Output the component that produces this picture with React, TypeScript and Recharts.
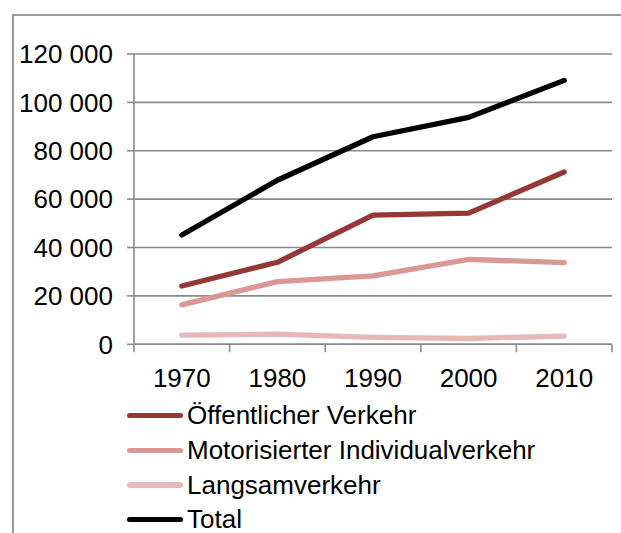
import React from "react";
import { LineChart, Line, XAxis, YAxis, CartesianGrid, Legend } from "recharts";

// Werte
const years = [1970, 1980, 1990, 2000, 2010];
const oeffentlich = [24100, 33900, 53400, 54200, 71200];
const motorisiert = [16300, 25900, 28300, 35100, 33800];
const langsam = [3800, 4200, 2900, 2400, 3400];
const total = [45200, 67800, 85800, 93800, 109100];
const yTicks = [0, 20000, 40000, 60000, 80000, 100000, 120000];
// Kategoriegrenzen (Excel-Stil: Teilstriche zwischen den Jahren)
const xBounds = [1965, 1975, 1985, 1995, 2005, 2015];

const seriesNames = [
  "Öffentlicher Verkehr",
  "Motorisierter Individualverkehr",
  "Langsamverkehr",
  "Total",
];
const seriesColors = ["#953735", "#d99795", "#e6b9b8", "#000000"];

const data = years.map((year, i) => ({
  year,
  oeffentlich: oeffentlich[i],
  motorisiert: motorisiert[i],
  langsam: langsam[i],
  total: total[i],
}));

const FONT = '"Liberation Sans", Arial, sans-serif';
const GRID = "#8a8a8a";

const fmt = (v: number) => String(v).replace(/\B(?=(\d{3})+(?!\d))/g, " ");

const XTick = (props: any) => {
  const { x, y, payload } = props;
  const v = payload.value;
  if (xBounds.includes(v)) {
    return <line x1={x} x2={x} y1={y - 8} y2={y} stroke={GRID} strokeWidth={1.6} />;
  }
  return (
    <text x={x} y={y + 34.6} textAnchor="middle" fontSize={26} fill="#000" fontFamily={FONT}>
      {v}
    </text>
  );
};

const LegendContent = (props: any) => {
  // Reihenfolge wie die Serien, nicht alphabetisch
  const items = [...(props.payload || [])].sort(
    (a: any, b: any) => seriesNames.indexOf(a.value) - seriesNames.indexOf(b.value)
  );
  return (
    <div style={{ fontFamily: FONT, fontSize: 26, color: "#000" }}>
      {items.map((p: any) => (
        <div
          key={p.value}
          style={{ display: "flex", alignItems: "center", height: 34.6, lineHeight: "34.6px", whiteSpace: "nowrap" }}
        >
          <div style={{ width: 56, height: 5.3, borderRadius: 3, background: p.color, marginRight: 4 }} />
          <span>{p.value}</span>
        </div>
      ))}
    </div>
  );
};

export default function App() {
  const keys = ["oeffentlich", "motorisiert", "langsam", "total"];
  return (
    <div
      style={{
        position: "absolute",
        left: 0,
        top: 0,
        width: 621,
        height: 533,
        overflow: "hidden",
        background: "#fff",
      }}
    >
      <div
        style={{
          position: "absolute",
          left: 12,
          top: 14,
          width: 700,
          height: 600,
          borderTop: "2px solid #9a9a9a",
          borderLeft: "2px solid #9a9a9a",
        }}
      />
      <div style={{ position: "absolute", left: 0, top: 0 }}>
        <LineChart width={621} height={533} data={data} margin={{ top: 54, right: 9, bottom: 0, left: 0 }}>
          <CartesianGrid vertical={false} stroke={GRID} strokeWidth={1.6} />
          <XAxis
            dataKey="year"
            type="number"
            domain={[1965, 2015]}
            ticks={[...xBounds, ...years].sort((a, b) => a - b)}
            interval={0}
            height={188.7}
            axisLine={{ stroke: GRID, strokeWidth: 1.6 }}
            tickLine={false}
            tickSize={8}
            tickMargin={0}
            tick={<XTick />}
          />
          <YAxis
            width={134}
            domain={[0, 120000]}
            ticks={yTicks}
            interval={0}
            tickFormatter={fmt}
            axisLine={{ stroke: GRID, strokeWidth: 1.6 }}
            tickLine={{ stroke: GRID, strokeWidth: 1.6 }}
            tickSize={7}
            tickMargin={14}
            tick={{ fontSize: 26, fill: "#000", fontFamily: FONT }}
          />
          {keys.map((k, i) => (
            <Line
              key={k}
              type="linear"
              dataKey={k}
              name={seriesNames[i]}
              stroke={seriesColors[i]}
              strokeWidth={5.3}
              strokeLinecap="round"
              strokeLinejoin="round"
              dot={false}
              activeDot={false}
              isAnimationActive={false}
            />
          ))}
          <Legend
            layout="vertical"
            align="center"
            verticalAlign="middle"
            content={<LegendContent />}
            wrapperStyle={{ left: 127, top: 398.4, width: "auto", height: "auto" }}
          />
        </LineChart>
      </div>
    </div>
  );
}
